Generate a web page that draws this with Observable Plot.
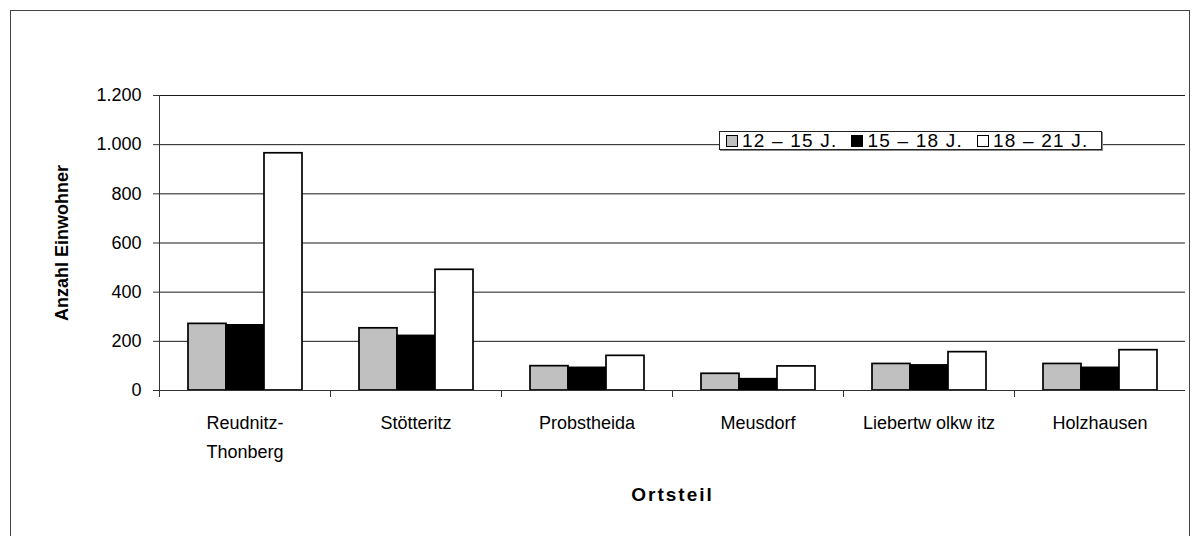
<!DOCTYPE html>
<html><head><meta charset="utf-8">
<script src="https://cdn.jsdelivr.net/npm/d3@7"></script>
<script src="https://cdn.jsdelivr.net/npm/@observablehq/plot@0.6"></script>
<style>
body{margin:0;background:#fff;font-family:"Liberation Sans",Arial,sans-serif;}
#wrap{position:relative;width:1204px;height:536px;overflow:hidden;}
#border{position:absolute;left:10px;top:10px;width:1178px;height:600px;border:1px solid #444;pointer-events:none;}
#legend{position:absolute;left:719px;top:131px;height:17px;line-height:17px;width:375px;border:1px solid #222;background:#fff;display:flex;align-items:center;padding-left:6px;box-sizing:content-box;font-size:19px;letter-spacing:1.2px;box-shadow:1px 1px 0 #888;}
#legend span.it{display:flex;align-items:center;white-space:pre;margin-right:14px;}
#legend i{display:inline-block;width:10px;height:10px;border:1px solid #000;margin-right:4px;}
</style></head>
<body><div id="wrap"><div id="border"></div><div id="legend"></div></div>
<script>
const categories = ["Reudnitz-\nThonberg","Stötteritz","Probstheida","Meusdorf","Liebertw olkw itz","Holzhausen"];
const series = ["12 – 15 J.","15 – 18 J.","18 – 21 J."];
const colors = ["#c0c0c0","#000000","#ffffff"];
const v12_15 = [271,253,99,68,108,108];
const v15_18 = [265,222,92,46,102,92];
const v18_21 = [965,491,141,98,156,164];
const yTicks = [0,200,400,600,800,1000,1200];

const values = [v12_15, v15_18, v18_21];
const data = categories.flatMap((c,i)=> series.map((s,k)=>({cat:c, ser:s, val:values[k][i]})));
const fmt = d3.formatLocale({decimal:",",thousands:".",grouping:[3],currency:["","€"]}).format(",");

const chart = Plot.plot({
  width:1204, height:536, marginLeft:156, marginRight:17, marginTop:95, marginBottom:146,
  style:{fontFamily:"Liberation Sans, Arial, sans-serif", fontSize:"18px", color:"#000", background:"transparent"},
  fx:{domain:categories, padding:0},
  x:{domain:series, paddingInner:0, paddingOuter:0.75, axis:null},
  y:{domain:[0,1200]},
  color:{domain:series, range:colors},
  marks:[
    Plot.gridY(yTicks, {stroke:"#000", strokeOpacity:0.9}),
    Plot.barY(data,{fx:"cat", x:"ser", y:"val", fill:"ser", stroke:"#000", strokeWidth:1.7}),
    Plot.ruleY([0], {stroke:"#333"}),
    Plot.frame({anchor:"left", facetAnchor:"left", stroke:"#333"}),
    Plot.frame({anchor:"left", insetTop:295, insetBottom:-6, stroke:"#333"}),
    Plot.axisY(yTicks, {tickFormat:fmt, tickSize:6, tickPadding:12, stroke:"#333", label:null, fontSize:18}),
    Plot.axisY({label:"Anzahl Einwohner", labelAnchor:"center", labelArrow:"none", labelOffset:104, tickSize:0, tickFormat:()=>"", fontSize:18}),
    Plot.axisFx({anchor:"bottom", tickSize:0, tickPadding:18, lineHeight:1.6, fontSize:18, label:null}),
    Plot.axisFx({anchor:"bottom", tickSize:0, tickFormat:()=>"", label:"Ortsteil", labelAnchor:"center", labelArrow:"none", labelOffset:110, fontSize:19})
  ]
});
d3.select(chart).selectAll('g[aria-label="y-axis label"], g[aria-label="fx-axis label"]').attr("font-weight","bold");
d3.select(chart).selectAll('g[aria-label="fx-axis label"]').attr("letter-spacing","2px");
document.getElementById("wrap").insertBefore(chart, document.getElementById("border"));
chart.style.position="absolute"; chart.style.left="0"; chart.style.top="0";

const leg = d3.select("#legend");
series.forEach((s,k)=>{
  const it = leg.append("span").attr("class","it");
  it.append("i").style("background", colors[k]);
  it.append("span").text(s);
});
</script>
</body></html>
